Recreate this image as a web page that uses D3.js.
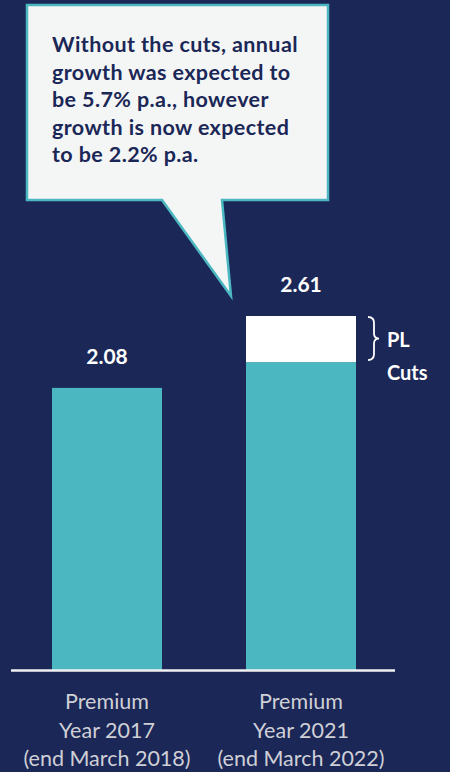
<!DOCTYPE html>
<html>
<head>
<meta charset="utf-8">
<script src="https://cdn.jsdelivr.net/npm/d3@7"></script>
<style>
  html, body { margin: 0; padding: 0; background: #1b2756; }
  svg { display: block; }
  text { font-family: Lato, "Open Sans", sans-serif; }
</style>
</head>
<body>
<svg id="chart" width="450" height="772"></svg>
<script>
// categories and values
const categories = ['PY2017', 'PY2021'];
const categoryLines = [
  ['Premium', 'Year 2017', '(end March 2018)'],
  ['Premium', 'Year 2021', '(end March 2022)'],
];
const baseValues = [2.08, 2.27];
const cutValues = [0, 0.34];
const totalLabels = ['2.08', '2.61'];
const calloutLines = [
  'Without the cuts, annual',
  'growth was expected to',
  'be 5.7% p.a., however',
  'growth is now expected',
  'to be 2.2% p.a.',
];

const BG = '#1b2756';
const TEAL = '#4bb8c1';

const svg = d3.select('#chart');
svg.append('rect').attr('width', 450).attr('height', 772).attr('fill', BG);

const x = d3.scaleBand()
  .domain(categories)
  .range([10, 398])
  .paddingInner(0.433)
  .paddingOuter(0.2165);

const y = d3.scaleLinear()
  .domain([0, 2.61])
  .range([670, 316]);

const bars = categories.map((c, i) => ({
  cat: c,
  base: baseValues[i],
  cut: cutValues[i],
  total: baseValues[i] + cutValues[i],
  label: totalLabels[i],
}));

// base bars
svg.selectAll('.bar-base')
  .data(bars)
  .join('rect')
  .attr('class', 'bar-base')
  .attr('x', d => x(d.cat))
  .attr('width', x.bandwidth())
  .attr('y', d => y(d.base))
  .attr('height', d => y(0) - y(d.base))
  .attr('fill', TEAL);

// PL cuts segment
svg.selectAll('.bar-cut')
  .data(bars.filter(d => d.cut > 0))
  .join('rect')
  .attr('class', 'bar-cut')
  .attr('x', d => x(d.cat))
  .attr('width', x.bandwidth())
  .attr('y', d => y(d.total))
  .attr('height', d => y(d.base) - y(d.total))
  .attr('fill', '#ffffff');

// value labels
svg.selectAll('.val')
  .data(bars)
  .join('text')
  .attr('class', 'val')
  .attr('x', d => x(d.cat) + x.bandwidth() / 2)
  .attr('y', d => y(d.total) - 24)
  .attr('text-anchor', 'middle')
  .attr('fill', '#ffffff')
  .attr('font-weight', 700)
  .attr('font-size', 21)
  .text(d => d.label);

// baseline
svg.append('line')
  .attr('x1', 11).attr('x2', 395)
  .attr('y1', y(0) + 0.5).attr('y2', y(0) + 0.5)
  .attr('stroke', '#f2f2f2')
  .attr('stroke-width', 2.5);

// category labels
const catText = svg.selectAll('.cat')
  .data(bars)
  .join('text')
  .attr('class', 'cat')
  .attr('text-anchor', 'middle')
  .attr('fill', '#cfd0d6')
  .attr('font-size', 21.5);

catText.selectAll('tspan')
  .data((d, i) => categoryLines[i].map(t => ({ t, cx: x(d.cat) + x.bandwidth() / 2 })))
  .join('tspan')
  .attr('x', d => d.cx)
  .attr('y', (d, j) => 709 + j * 28.5)
  .text(d => d.t);

// bracket for PL cuts
const cutBar = bars[1];
const bx = x(cutBar.cat) + x.bandwidth() + 12;
const by0 = y(cutBar.total) + 1, by1 = y(cutBar.base) - 2;
const bm = (by0 + by1) / 2;
svg.append('path')
  .attr('d', `M${bx},${by0} Q${bx + 6},${by0} ${bx + 6},${by0 + 6} L${bx + 6},${bm - 5} Q${bx + 6},${bm} ${bx + 11},${bm}
              Q${bx + 6},${bm} ${bx + 6},${bm + 5} L${bx + 6},${by1 - 6} Q${bx + 6},${by1} ${bx},${by1}`)
  .attr('fill', 'none')
  .attr('stroke', '#ffffff')
  .attr('stroke-width', 1.8);

svg.append('text')
  .attr('x', bx + 19).attr('y', bm + 8)
  .attr('fill', '#ffffff').attr('font-weight', 700).attr('font-size', 20)
  .text('PL');
svg.append('text')
  .attr('x', bx + 19).attr('y', bm + 41)
  .attr('fill', '#ffffff').attr('font-weight', 700).attr('font-size', 20)
  .text('Cuts');

// callout box with tail
const box = { x0: 27, x1: 328, y0: 5, y1: 200 };
const tail = { a: 162, b: 222, tx: 231, ty: 296 };
svg.append('path')
  .attr('d', `M${box.x0},${box.y0} H${box.x1} V${box.y1} H${tail.b} L${tail.tx},${tail.ty} L${tail.a},${box.y1} H${box.x0} Z`)
  .attr('fill', '#f4f6f6')
  .attr('stroke', TEAL)
  .attr('stroke-width', 2.5)
  .attr('stroke-linejoin', 'miter');

svg.append('g')
  .selectAll('text')
  .data(calloutLines)
  .join('text')
  .attr('x', 52)
  .attr('y', (d, i) => 52 + i * 27.5)
  .attr('fill', BG)
  .attr('font-weight', 700)
  .attr('font-size', 21.5)
  .attr('letter-spacing', 0.4)
  .text(d => d);
</script>
</body>
</html>
